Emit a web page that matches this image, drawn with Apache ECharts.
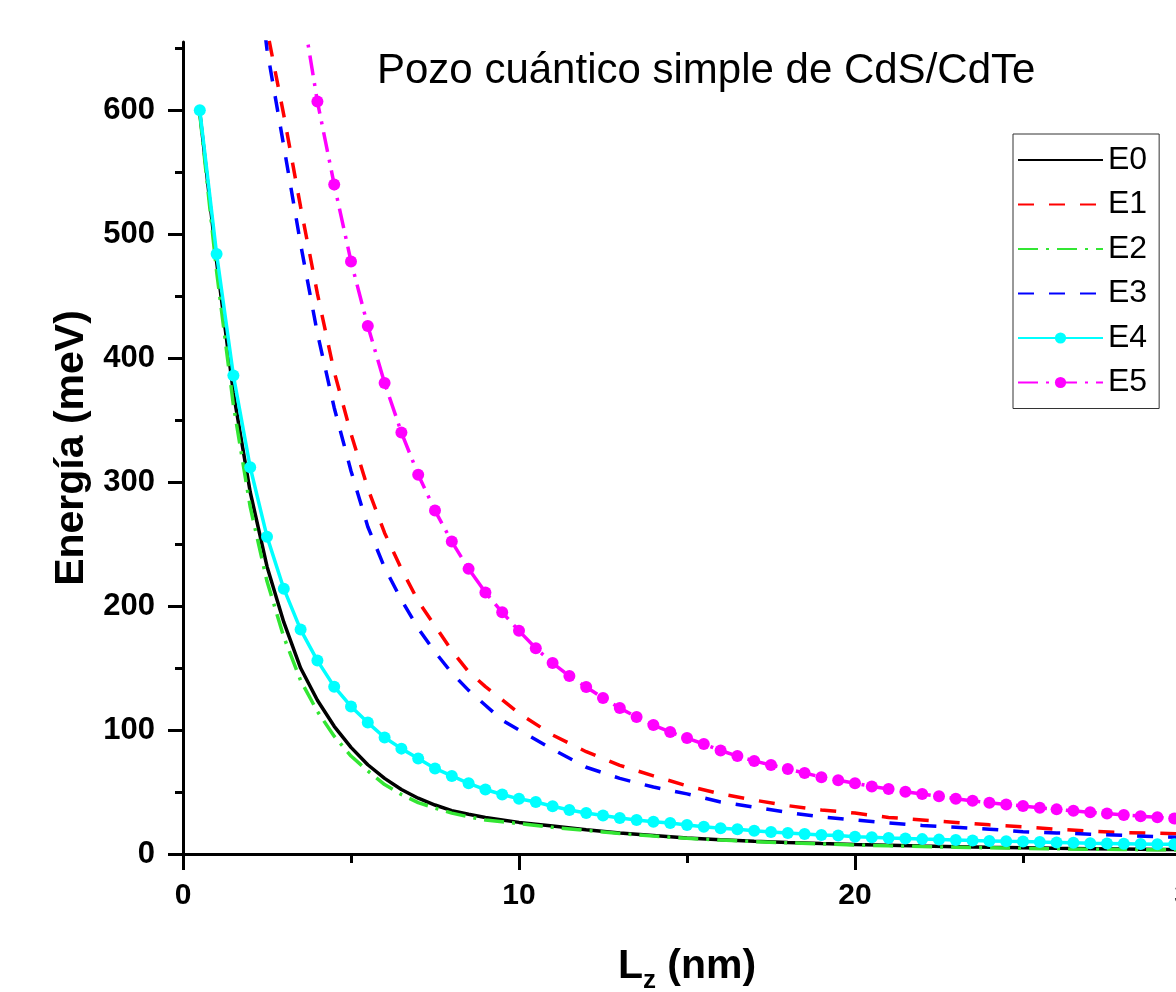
<!DOCTYPE html>
<html>
<head>
<meta charset="utf-8">
<script src="https://cdn.jsdelivr.net/npm/echarts@6/dist/echarts.min.js"></script>
<style>
  html, body { margin: 0; padding: 0; background: #fff; }
  #chart { width: 1176px; height: 992px; }
</style>
</head>
<body>
<div id="chart"></div>
<script>
// Lz grid for the curves drawn without markers (nm)
const lzCoarse = [0.5, 1, 1.5, 2, 2.5, 3, 3.5, 4, 4.5, 5, 5.5, 6, 6.5, 7, 7.5, 8, 8.5, 9, 9.5, 10,
  11, 12, 13, 14, 15, 16, 17, 18, 19, 20, 21, 22, 23, 24, 25, 26, 27, 28, 29, 30];

// Lz grid for the curves with markers, every 0.5 nm
const lzFine = [0.5, 1, 1.5, 2, 2.5, 3, 3.5, 4, 4.5, 5, 5.5, 6, 6.5, 7, 7.5, 8, 8.5, 9, 9.5, 10,
  10.5, 11, 11.5, 12, 12.5, 13, 13.5, 14, 14.5, 15, 15.5, 16, 16.5, 17, 17.5, 18, 18.5, 19, 19.5, 20,
  20.5, 21, 21.5, 22, 22.5, 23, 23.5, 24, 24.5, 25, 25.5, 26, 26.5, 27, 27.5, 28, 28.5, 29, 29.5, 30];

// energies in meV
const e0 = [598, 478, 372, 292, 232, 187, 150, 124, 103, 86, 72, 61, 52, 45, 39.5, 35, 32, 29.5, 27.5, 25.5,
  22.5, 19.5, 17, 15, 13, 11.5, 10.3, 9.3, 8.4, 7.6, 7, 6.4, 5.9, 5.4, 5, 4.6, 4.3, 4, 3.7, 3.5];
const e1 = [null, null, null, 780, 665, 596, 522, 452, 389, 339, 295, 259, 230, 204, 184, 164, 147, 135, 124.5, 113.5,
  96, 82.5, 71.5, 63, 55, 48.5, 43.5, 39, 35.5, 33, 29.5, 27.5, 25.5, 23.5, 22, 20, 18.5, 17.3, 16.8, 16];
const e2 = [597, 470, 362, 280, 220, 175, 140, 115, 95, 79, 67, 56, 48, 41.5, 37, 33, 30, 27.5, 26, 24.5,
  21.5, 19, 16.5, 14.5, 12.7, 11.2, 10, 9, 8.1, 7.3, 6.6, 6, 5.5, 5, 4.6, 4.2, 3.9, 3.6, 3.4, 3.2];
const e3 = [null, null, null, 760, 649, 571, 492, 420, 360, 309, 264, 231, 205, 182, 163, 146, 132, 120, 108, 100,
  84.5, 70, 61, 54, 48.5, 42, 37.8, 33.5, 30, 27.4, 25, 23, 21.5, 20, 18, 17, 16, 15, 14, 13];
const e4 = [600, 484, 386, 312, 256, 214, 181, 156, 135, 119, 106, 94, 85, 77, 69, 63, 57, 52, 48, 44.5,
  42, 38.5, 35.5, 33, 31, 29, 27.4, 26, 25, 23.4, 22, 20.8, 20, 18.8, 17.8, 17, 16.2, 15.4, 15, 14,
  13.6, 13, 12.5, 12, 11.6, 11.2, 10.8, 10.5, 10.2, 10, 9.6, 9.3, 9, 8.7, 8.5, 8.3, 8.1, 7.9, 7.8, 7.6];
const e5 = [null, null, null, null, null, 800, 690, 607, 540, 478, 426, 380, 340, 306, 277, 252, 230, 211, 195, 180,
  166, 154, 143.5, 134.7, 125.8, 117.7, 110.5, 104, 98.4, 93.5, 88.7, 83.5, 79, 75, 71.8, 68.5, 65.3, 62, 59.5, 57,
  54.5, 52.4, 50.2, 48.4, 46.5, 44.6, 42.9, 41.3, 40, 38.7, 37.3, 36, 34.8, 33.6, 32.6, 31.5, 30.5, 29.6, 28.6, 27.8];

const yMajor = [0, 100, 200, 300, 400, 500, 600];
const yMinor = [50, 150, 250, 350, 450, 550, 650];

const FONT = "Liberation Sans";

function pairs(xs, ys) {
  return xs.map((x, i) => [x, ys[i]]);
}

function curve(name, xs, ys, color, dash, withMarker) {
  return {
    name,
    type: "line",
    data: pairs(xs, ys),
    symbol: withMarker ? "circle" : "none",
    symbolSize: 12,
    showSymbol: withMarker,
    showAllSymbol: true,
    connectNulls: false,
    lineStyle: { color, width: 3.5, type: dash },
    itemStyle: { color },
    emphasis: { disabled: true },
  };
}

const chart = echarts.init(document.getElementById("chart"), null, { renderer: "canvas" });

const axisLine = { show: true, lineStyle: { color: "#000", width: 3 } };

// plain line samples in the legend for curves without markers
const noDot = { itemStyle: { opacity: 0 } };

chart.setOption({
  animation: false,
  backgroundColor: "#fff",
  title: {
    text: "Pozo cuántico simple de CdS/CdTe",
    left: 372,
    top: 45,
    textStyle: { fontFamily: FONT, fontWeight: "normal", fontSize: 42, color: "#000" },
  },
  legend: {
    orient: "vertical",
    left: 1013,
    top: 134,
    padding: [10, 12, 10, 4],
    itemWidth: 85,
    itemHeight: 14,
    itemGap: 12.5,
    borderColor: "#333",
    borderWidth: 1,
    backgroundColor: "#fff",
    textStyle: { fontFamily: FONT, fontSize: 32, color: "#000", lineHeight: 32 },
    data: [
      { name: "E0", ...noDot },
      { name: "E1", ...noDot },
      { name: "E2", ...noDot },
      { name: "E3", ...noDot },
      { name: "E4" },
      { name: "E5" },
    ],
  },
  // x = 30 falls just past the right edge, as in the original crop
  grid: { left: 183, width: 1008, top: 42, height: 812, containLabel: false, outerBoundsMode: "none" },
  xAxis: {
    type: "value",
    min: 0,
    max: 30,
    interval: 10,
    name: "{l|L}{s|z}{l| (nm)}",
    nameLocation: "middle",
    nameGap: 92,
    nameTextStyle: {
      rich: {
        l: { fontFamily: FONT, fontWeight: "bold", fontSize: 41, color: "#000", verticalAlign: "top" },
        s: { fontFamily: FONT, fontWeight: "bold", fontSize: 26, color: "#000", padding: [22, 0, 0, 0] },
      },
    },
    axisLine,
    axisTick: { show: true, inside: false, length: 16, lineStyle: { color: "#000", width: 3 } },
    minorTick: { show: true, splitNumber: 2, length: 9, lineStyle: { color: "#000", width: 3 } },
    splitLine: { show: false },
    axisLabel: { fontFamily: FONT, fontWeight: "bold", fontSize: 30, color: "#000", margin: 27 },
  },
  yAxis: [
    {
      type: "value",
      position: "left",
      min: 0,
      max: 655,
      interval: 100,
      name: "Energía (meV)",
      nameLocation: "middle",
      nameGap: 90,
      nameTextStyle: { fontFamily: FONT, fontWeight: "bold", fontSize: 41, color: "#000" },
      axisLine,
      axisTick: { show: true, length: 15, customValues: yMajor, lineStyle: { color: "#000", width: 3 } },
      splitLine: { show: false },
      axisLabel: {
        fontFamily: FONT, fontWeight: "bold", fontSize: 31, color: "#000", margin: 28,
        customValues: yMajor,
      },
    },
    {
      type: "value",
      position: "left",
      min: 0,
      max: 655,
      interval: 100,
      axisLine: { show: false },
      axisTick: { show: true, length: 8, customValues: yMinor, lineStyle: { color: "#000", width: 3 } },
      axisLabel: { show: false },
      splitLine: { show: false },
    },
  ],
  series: [
    curve("E0", lzCoarse, e0, "#000000", "solid", false),
    curve("E1", lzCoarse, e1, "#ff0000", [16, 15], false),
    curve("E2", lzCoarse, e2, "#33e633", [20, 8, 3, 8], false),
    curve("E3", lzCoarse, e3, "#0000ff", [16, 15], false),
    curve("E4", lzFine, e4, "#00ffff", "solid", true),
    curve("E5", lzFine, e5, "#ff00ff", [20, 8, 3, 8], true),
  ],
});
</script>
</body>
</html>
